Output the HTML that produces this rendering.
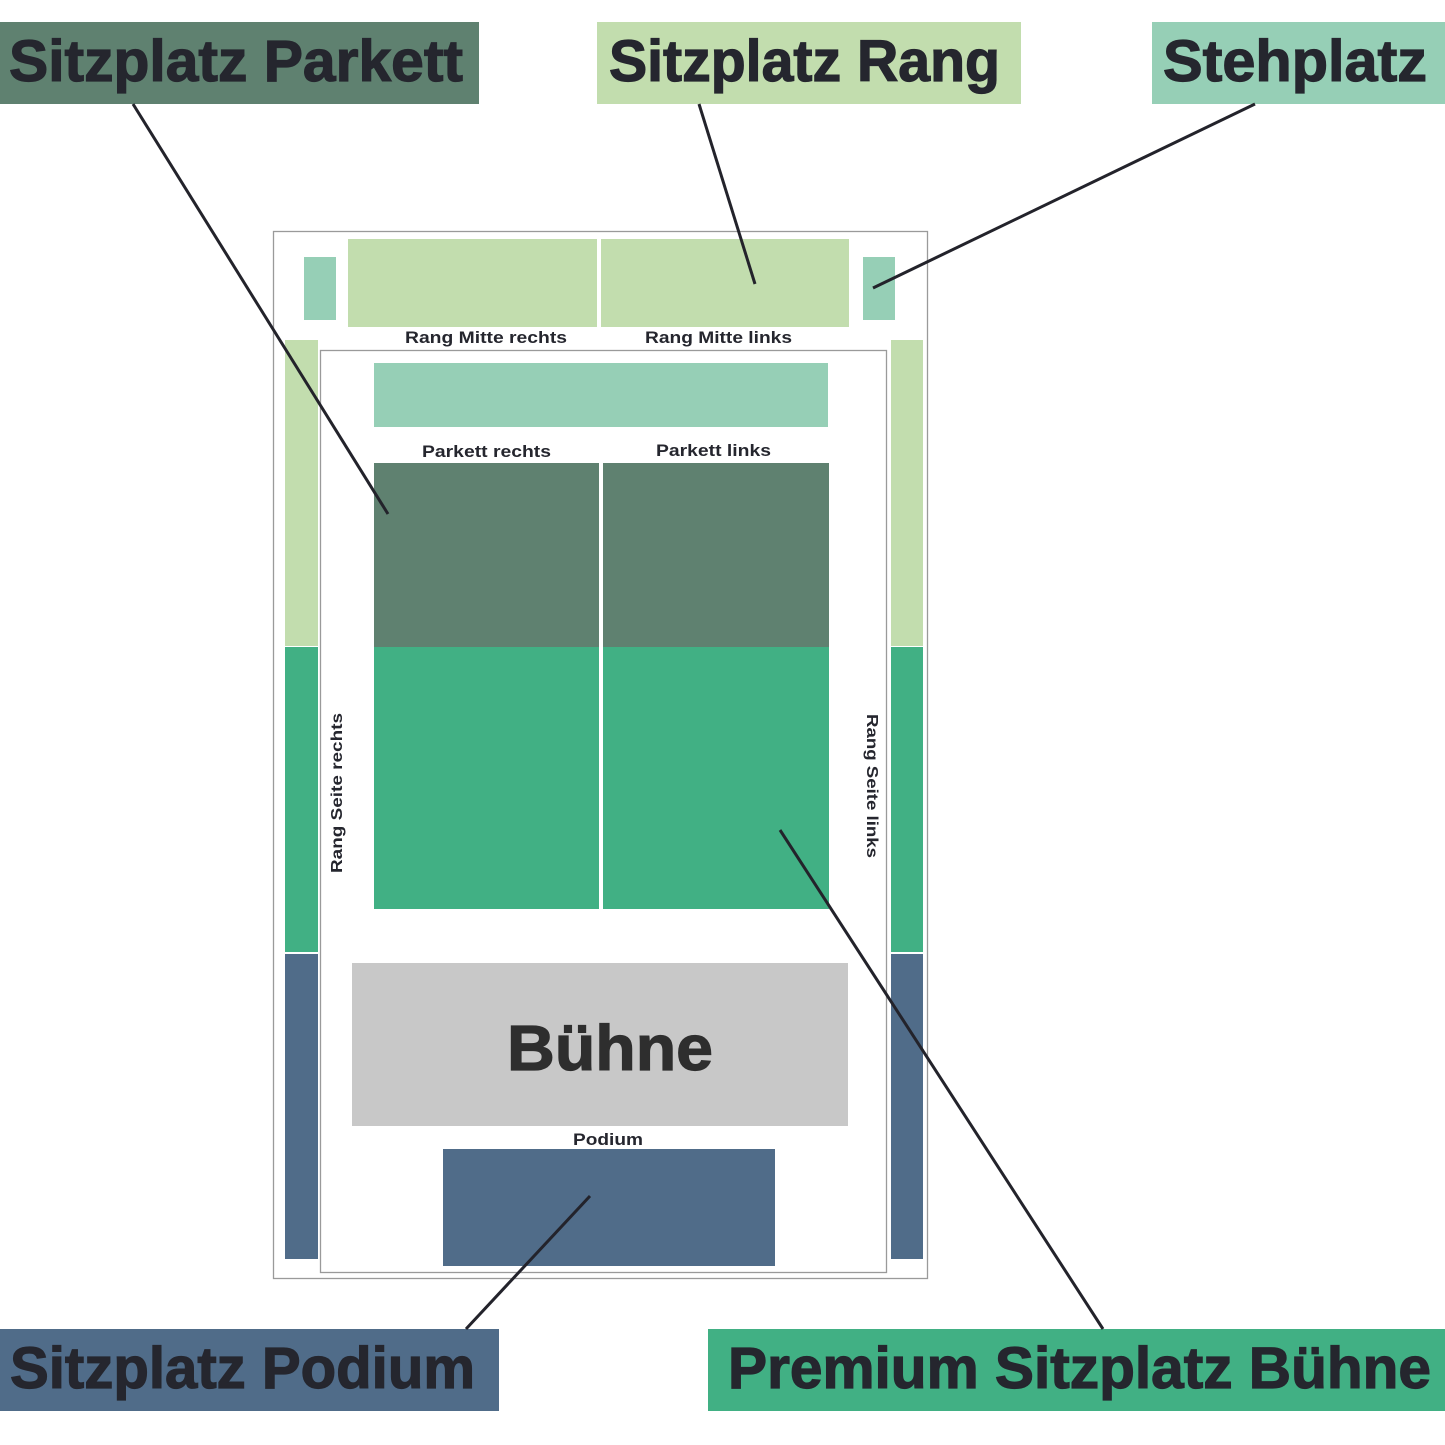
<!DOCTYPE html>
<html>
<head>
<meta charset="utf-8">
<style>
  html, body { margin: 0; padding: 0; background: #ffffff; }
  body { width: 1445px; height: 1445px; overflow: hidden; }
  svg { display: block; }
  text { font-family: "Liberation Sans", "DejaVu Sans", sans-serif; font-weight: bold; fill: #25262e; }
  .big { stroke: #25262e; stroke-width: 1.2; }
</style>
</head>
<body>
<svg width="1445" height="1445" viewBox="0 0 1445 1445" xmlns="http://www.w3.org/2000/svg">
  <rect x="0" y="0" width="1445" height="1445" fill="#ffffff"/>

  <!-- Outer and inner borders -->
  <rect x="273.5" y="231.5" width="654" height="1047" fill="none" stroke="#9a9a9a" stroke-width="1.3"/>
  <rect x="320.5" y="350.5" width="566" height="922" fill="none" stroke="#9a9a9a" stroke-width="1.3"/>

  <!-- Stehplatz small blocks -->
  <rect x="304" y="257" width="32" height="63" fill="#96cfb6"/>
  <rect x="863" y="257" width="32" height="63" fill="#96cfb6"/>

  <!-- Rang Mitte -->
  <rect x="348" y="239" width="249" height="88" fill="#c2ddae"/>
  <rect x="601" y="239" width="248" height="88" fill="#c2ddae"/>

  <!-- Left side bars -->
  <rect x="285" y="340" width="33" height="306" fill="#c2ddae"/>
  <rect x="285" y="647" width="33" height="305" fill="#41b084"/>
  <rect x="285" y="954" width="33" height="305" fill="#506c89"/>
  <!-- Right side bars -->
  <rect x="891" y="340" width="32" height="306" fill="#c2ddae"/>
  <rect x="891" y="647" width="32" height="305" fill="#41b084"/>
  <rect x="891" y="954" width="32" height="305" fill="#506c89"/>

  <!-- Teal wide block -->
  <rect x="374" y="363" width="454" height="64" fill="#96cfb6"/>

  <!-- Parkett -->
  <rect x="374" y="463" width="225" height="184" fill="#5f8170"/>
  <rect x="603" y="463" width="226" height="184" fill="#5f8170"/>
  <rect x="374" y="647" width="225" height="262" fill="#41b084"/>
  <rect x="603" y="647" width="226" height="262" fill="#41b084"/>

  <!-- Bühne -->
  <rect x="352" y="963" width="496" height="163" fill="#c8c8c8"/>
  <text class="big" x="507" y="1070" font-size="64" textLength="206" lengthAdjust="spacingAndGlyphs" style="fill:#2e2e2e;stroke:#2e2e2e">Bühne</text>

  <!-- Podium -->
  <rect x="443" y="1149" width="332" height="117" fill="#506c89"/>
  <text x="573" y="1145" font-size="17" textLength="70" lengthAdjust="spacingAndGlyphs">Podium</text>

  <!-- Small labels -->
  <text x="405" y="343" font-size="17" textLength="162" lengthAdjust="spacingAndGlyphs">Rang Mitte rechts</text>
  <text x="645" y="343" font-size="17" textLength="147" lengthAdjust="spacingAndGlyphs">Rang Mitte links</text>
  <text x="422" y="457" font-size="17" textLength="129" lengthAdjust="spacingAndGlyphs">Parkett rechts</text>
  <text x="656" y="456" font-size="17" textLength="115" lengthAdjust="spacingAndGlyphs">Parkett links</text>

  <!-- Vertical labels -->
  <text x="342" y="873" font-size="16" textLength="160" lengthAdjust="spacingAndGlyphs" transform="rotate(-90 342 873)">Rang Seite rechts</text>
  <text x="867" y="714" font-size="16" textLength="144" lengthAdjust="spacingAndGlyphs" transform="rotate(90 867 714)">Rang Seite links</text>

  <!-- Label boxes -->
  <rect x="0" y="22" width="479" height="82" fill="#5f8170"/>
  <text class="big" x="9" y="81" font-size="58" textLength="454" lengthAdjust="spacingAndGlyphs">Sitzplatz Parkett</text>

  <rect x="597" y="22" width="424" height="82" fill="#c2ddae"/>
  <text class="big" x="609" y="81" font-size="58" textLength="391" lengthAdjust="spacingAndGlyphs">Sitzplatz Rang</text>

  <rect x="1152" y="22" width="293" height="82" fill="#96cfb6"/>
  <text class="big" x="1163" y="81" font-size="58" textLength="264" lengthAdjust="spacingAndGlyphs">Stehplatz</text>

  <rect x="0" y="1329" width="499" height="82" fill="#506c89"/>
  <text class="big" x="10" y="1388" font-size="58" textLength="465" lengthAdjust="spacingAndGlyphs">Sitzplatz Podium</text>

  <rect x="708" y="1329" width="737" height="82" fill="#41b084"/>
  <text class="big" x="728" y="1388" font-size="58" textLength="703" lengthAdjust="spacingAndGlyphs">Premium Sitzplatz Bühne</text>

  <!-- Connector lines -->
  <g stroke="#23232b" stroke-width="3" stroke-linecap="butt" fill="none">
    <line x1="133" y1="104" x2="388" y2="514"/>
    <line x1="699" y1="104" x2="755" y2="284"/>
    <line x1="1255" y1="104" x2="873" y2="288"/>
    <line x1="466" y1="1329" x2="590" y2="1196"/>
    <line x1="1103" y1="1329" x2="780" y2="830"/>
  </g>
</svg>
</body>
</html>
